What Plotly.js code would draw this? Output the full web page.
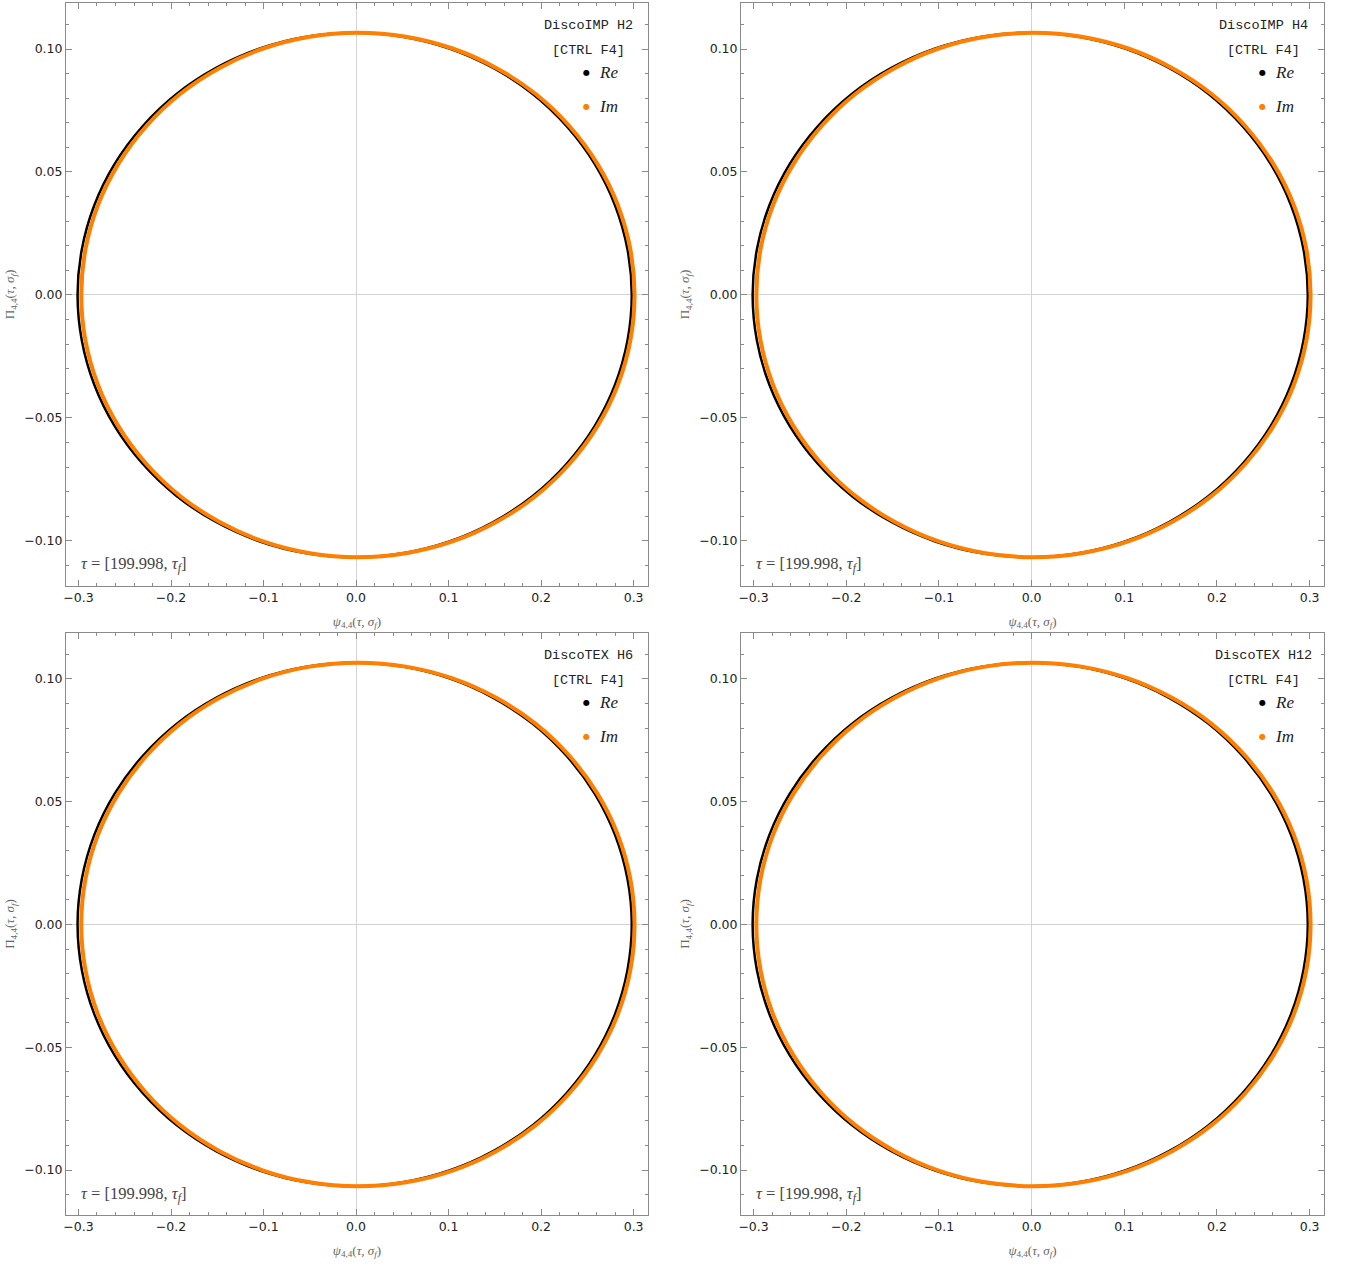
<!DOCTYPE html>
<html>
<head>
<meta charset="utf-8">
<script src="https://cdn.plot.ly/plotly-3.0.1.min.js"></script>
<style>html,body{margin:0;padding:0;background:#fff;}#chart{width:1347px;height:1265px;}</style>
</head>
<body>
<div id="chart"></div>
<script>
// Panel names (legend headers)
const panelNames = ["DiscoIMP H2", "DiscoIMP H4", "DiscoTEX H6", "DiscoTEX H12"];
const panelTag = "[CTRL F4]";
const seriesNames = ["Re", "Im"];
const timeLabel = "199.998";

// Re trace (black): psi vs Pi
const reX = [0.2980, 0.2934, 0.2799, 0.2579, 0.2279, 0.1910, 0.1483, 0.1009, 0.0505, -0.0015,
  -0.0535, -0.1039, -0.1513, -0.1940, -0.2309, -0.2609, -0.2829, -0.2964, -0.3010,
  -0.2964, -0.2829, -0.2609, -0.2309, -0.1940, -0.1513, -0.1039, -0.0535, -0.0015,
  0.0505, 0.1009, 0.1483, 0.1910, 0.2279, 0.2579, 0.2799, 0.2934, 0.2980];
const reY = [0.0000, 0.0185, 0.0365, 0.0533, 0.0685, 0.0817, 0.0923, 0.1002, 0.1050, 0.1066,
  0.1050, 0.1002, 0.0923, 0.0817, 0.0685, 0.0533, 0.0365, 0.0185, 0.0000,
  -0.0185, -0.0365, -0.0533, -0.0685, -0.0817, -0.0923, -0.1002, -0.1050, -0.1066,
  -0.1050, -0.1002, -0.0923, -0.0817, -0.0685, -0.0533, -0.0365, -0.0185, 0.0000];

// Im trace (orange)
const imX = [0.3010, 0.2965, 0.2830, 0.2609, 0.2310, 0.1942, 0.1515, 0.1043, 0.0539, 0.0020,
  -0.0499, -0.1003, -0.1475, -0.1902, -0.2270, -0.2569, -0.2790, -0.2925, -0.2970,
  -0.2925, -0.2790, -0.2569, -0.2270, -0.1902, -0.1475, -0.1003, -0.0499, 0.0020,
  0.0539, 0.1043, 0.1515, 0.1942, 0.2310, 0.2609, 0.2830, 0.2965, 0.3010];
const imY = [0.0000, 0.0185, 0.0365, 0.0533, 0.0685, 0.0817, 0.0923, 0.1002, 0.1050, 0.1066,
  0.1050, 0.1002, 0.0923, 0.0817, 0.0685, 0.0533, 0.0365, 0.0185, 0.0000,
  -0.0185, -0.0365, -0.0533, -0.0685, -0.0817, -0.0923, -0.1002, -0.1050, -0.1066,
  -0.1050, -0.1002, -0.0923, -0.0817, -0.0685, -0.0533, -0.0365, -0.0185, 0.0000];

const reColor = "#000000";
const imColor = "#ff7f00";

const xDomains = [[0, 0.4626], [0.5366, 1], [0, 0.4626], [0.5366, 1]];
const yDomains = [[0.519, 1], [0.519, 1], [0, 0.4802], [0, 0.4802]];

const data = [];
const layout = {
  width: 1347, height: 1265,
  margin: {l: 66, r: 23, t: 3, b: 50},
  paper_bgcolor: "#fff", plot_bgcolor: "#fff",
  showlegend: false,
  font: {family: "DejaVu Sans", size: 12, color: "#222"},
  annotations: []
};

const serif = "Liberation Serif, DejaVu Serif, serif";
const mono = "Liberation Mono, DejaVu Sans Mono, monospace";

for (let i = 0; i < 4; i++) {
  const n = i === 0 ? "" : String(i + 1);
  const xa = "x" + n, ya = "y" + n;
  data.push({x: reX, y: reY, xaxis: xa, yaxis: ya, type: "scatter", mode: "lines", name: seriesNames[0],
    line: {color: reColor, width: 2.5, shape: "spline", smoothing: 1}, hoverinfo: "skip"});
  data.push({x: imX, y: imY, xaxis: xa, yaxis: ya, type: "scatter", mode: "lines", name: seriesNames[1],
    line: {color: imColor, width: 4, shape: "spline", smoothing: 1}, hoverinfo: "skip"});

  const common = {
    showgrid: false, zeroline: true, zerolinecolor: "#d4d4d4", zerolinewidth: 1,
    showline: true, linecolor: "#8a8a8a", linewidth: 1, mirror: "ticks",
    ticks: "inside", ticklen: 6, tickcolor: "#8a8a8a", tickwidth: 1,
    tickfont: {family: "DejaVu Sans", size: 12.5, color: "#222"}
  };
  layout["xaxis" + n] = Object.assign({}, common, {
    domain: xDomains[i], anchor: ya, range: [-0.3135, 0.3155],
    dtick: 0.1, tick0: 0, tickformat: ".1f",
    minor: {dtick: 0.02, ticklen: 3, tickcolor: "#8a8a8a", ticks: "inside"},
    title: {text: "<i>ψ</i><sub>4,4</sub>(<i>τ</i>, <i>σ</i><sub><i>f</i></sub>)",
      font: {family: serif, size: 13, color: "#666"}, standoff: 12}
  });
  layout["yaxis" + n] = Object.assign({}, common, {
    domain: yDomains[i], anchor: xa, range: [-0.1183, 0.1187],
    dtick: 0.05, tick0: 0, tickformat: ".2f",
    minor: {dtick: 0.01, ticklen: 3, tickcolor: "#8a8a8a", ticks: "inside"},
    title: {text: "Π<sub>4,4</sub>(<i>τ</i>, <i>σ</i><sub><i>f</i></sub>)",
      font: {family: serif, size: 13, color: "#666"}, standoff: 6}
  });

  const xr = xa + " domain", yr = ya + " domain";
  layout.annotations.push(
    {xref: xr, yref: yr, x: 0.897, y: 0.962, xanchor: "center", yanchor: "middle", showarrow: false,
      text: panelNames[i], font: {family: mono, size: 13.5, color: "#222"}},
    {xref: xr, yref: yr, x: 0.897, y: 0.919, xanchor: "center", yanchor: "middle", showarrow: false,
      text: panelTag, font: {family: mono, size: 13.5, color: "#222"}},
    {xref: xr, yref: yr, x: 0.895, y: 0.880, xanchor: "center", yanchor: "middle", showarrow: false,
      text: "●", font: {family: "DejaVu Sans", size: 8, color: reColor}},
    {xref: xr, yref: yr, x: 0.913, y: 0.880, xanchor: "left", yanchor: "middle", showarrow: false,
      text: "<i>" + seriesNames[0] + "</i>", font: {family: serif, size: 17, color: "#222"}},
    {xref: xr, yref: yr, x: 0.895, y: 0.823, xanchor: "center", yanchor: "middle", showarrow: false,
      text: "●", font: {family: "DejaVu Sans", size: 8, color: imColor}},
    {xref: xr, yref: yr, x: 0.913, y: 0.823, xanchor: "left", yanchor: "middle", showarrow: false,
      text: "<i>" + seriesNames[1] + "</i>", font: {family: serif, size: 17, color: "#222"}},
    {xref: xr, yref: yr, x: 0.022, y: 0.036, xanchor: "left", yanchor: "middle", showarrow: false,
      text: "<i>τ</i> = [" + timeLabel + ", <i>τ</i><sub><i>f</i></sub>]",
      font: {family: serif, size: 16.5, color: "#444"}}
  );
}

Plotly.newPlot("chart", data, layout, {staticPlot: true, displayModeBar: false});
</script>
</body>
</html>
